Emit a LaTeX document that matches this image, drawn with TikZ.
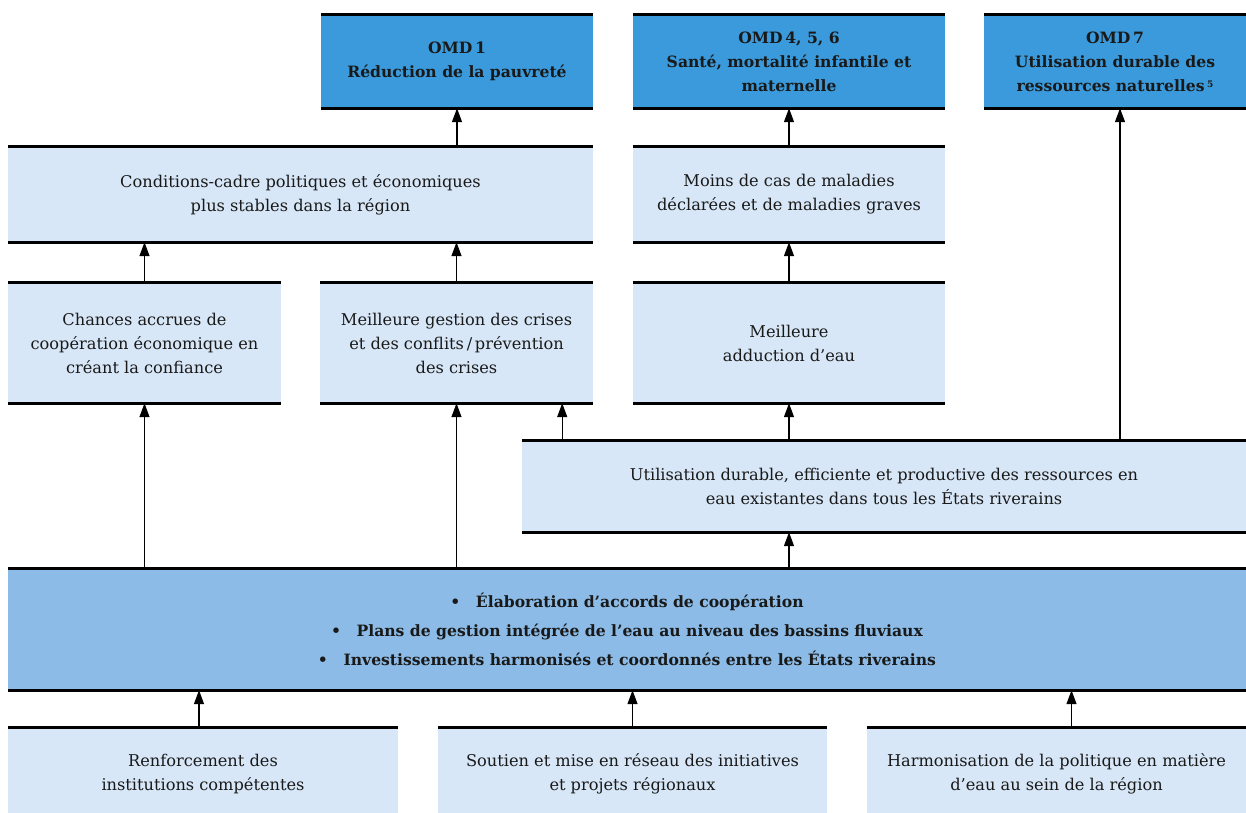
\documentclass[tikz,border=0pt]{standalone}
\usepackage{fontspec}
\setmainfont{DejaVu Serif}
\usetikzlibrary{arrows.meta,calc}
\definecolor{dkb}{HTML}{3A9ADB}
\definecolor{ltb}{HTML}{D7E7F7}
\definecolor{mdb}{HTML}{8BBBE6}
\newcommand{\bft}{\fontsize{15.6}{24}\selectfont\bfseries}
\tikzset{
  bx/.style={draw=none, inner sep=0pt, align=center, font=\fontsize{16.2}{24}\selectfont, text=black!90},
  arr/.style={line width=1.3pt, -{Triangle[width=10pt,length=14pt]}},
  rule/.style={line width=3.2pt, black}
}
\newcommand{\mybox}[7]{%
  \node[bx, fill=#6, minimum width={#4-#2}, minimum height={#5-#3}] (#1) at ({(#2+#4)/2},{(#3+#5)/2}) {#7};
  \draw[rule] (#1.north west) -- (#1.north east);
  \draw[rule] (#1.south west) -- (#1.south east);
}
\begin{document}
\begin{tikzpicture}[x=1pt,y=-1pt]
\useasboundingbox (0,0) rectangle (1246,812);
% top row
\mybox{omda}{321}{15}{593}{108}{dkb}{\bft OMD\,1\\\bft Réduction de la pauvreté}
\mybox{omdb}{633}{15}{945}{108}{dkb}{\bft OMD\,4, 5, 6\\\bft Santé, mortalité infantile et\\\bft maternelle}
\mybox{omdc}{984}{15}{1246}{108}{dkb}{\bft OMD\,7\\\bft Utilisation durable des\\\bft ressources naturelles\,\raisebox{0.5ex}{\fontsize{9}{9}\selectfont 5}}
% second row
\mybox{cond}{8}{147}{593}{242}{ltb}{Conditions-cadre politiques et économiques\\plus stables dans la région}
\mybox{moins}{633}{147}{945}{242}{ltb}{Moins de cas de maladies\\déclarées et de maladies graves}
% third row
\mybox{chances}{8}{283}{281}{403}{ltb}{Chances accrues de\\coopération économique en\\créant la confiance}
\mybox{gestion}{320}{283}{593}{403}{ltb}{Meilleure gestion des crises\\et des conflits\,/\,prévention\\des crises}
\mybox{add}{633}{283}{945}{403}{ltb}{Meilleure\\adduction d’eau}
% utilisation
\mybox{util}{522}{441}{1246}{532}{ltb}{Utilisation durable, efficiente et productive des ressources en\\eau existantes dans tous les États riverains}
% big box
\mybox{big}{8}{569}{1246}{690}{mdb}{\bft •\quad Élaboration d’accords de coopération\\[5pt]\bft •\quad Plans de gestion intégrée de l’eau au niveau des bassins fluviaux\\[5pt]\bft •\quad Investissements harmonisés et coordonnés entre les États riverains}
% bottom row
\mybox{ba}{8}{728}{398}{850}{ltb}{Renforcement des\\institutions compétentes\\[9pt]~}
\mybox{bb}{438}{728}{827}{850}{ltb}{Soutien et mise en réseau des initiatives\\et projets régionaux\\[9pt]~}
\mybox{bc}{867}{728}{1246}{850}{ltb}{Harmonisation de la politique en matière\\d’eau au sein de la région\\[9pt]~}
% arrows
\draw[arr] (cond.north -| omda) -- (omda.south);
\draw[arr] (moins.north) -- (omdb.south);
\draw[arr] ([xshift=5]util.north -| omdc) -- ([xshift=5]omdc.south);
\draw[arr] (chances.north) -- (chances.north |- cond.south);
\draw[arr] (gestion.north) -- (gestion.north |- cond.south);
\draw[arr] (add.north) -- (moins.south -| add);
\draw[arr] (big.north -| chances) -- (chances.south);
\draw[arr] (big.north -| gestion) -- (gestion.south);
\draw[arr] ([xshift=-31]gestion.south east |- util.north) -- ([xshift=-31]gestion.south east);
\draw[arr] (util.north -| add) -- (add.south);
\draw[arr] (big.north -| add) -- (util.south -| add);
\draw[arr] ([xshift=-4]ba.north) -- ([xshift=-4]ba.north |- big.south);
\draw[arr] (bb.north) -- (bb.north |- big.south);
\draw[arr] ([xshift=15]bc.north) -- ([xshift=15]bc.north |- big.south);
\end{tikzpicture}
\end{document}
